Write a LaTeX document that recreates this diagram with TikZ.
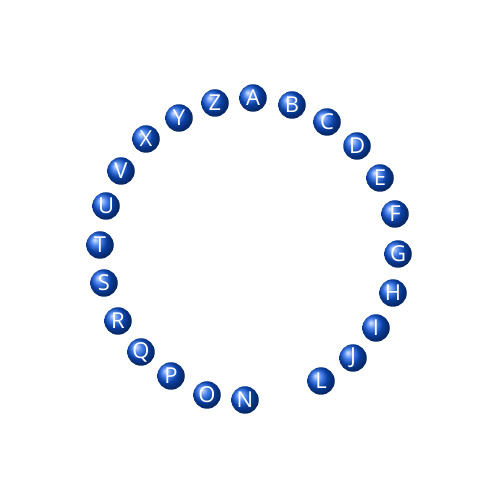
\documentclass[tikz,border=0pt]{standalone}
\usepackage{fontspec}
\setsansfont{Open Sans}
\definecolor{ballblue}{RGB}{15,90,230}

\begin{document}
\begin{tikzpicture}
            \useasboundingbox (0,0) rectangle (10,10);
            \begin{scope}[every node/.style={circle,ball color=ballblue,minimum size=5.5mm,inner sep=0pt,text=white,font=\sffamily\fontsize{12.5}{12.5}\selectfont}]
                \node (bA) at (5.06,8.04) {A};
                \node (bB) at (5.84,7.90) {B};
                \node (bC) at (6.54,7.56) {C};
                \node (bD) at (7.14,7.08) {D};
                \node (bE) at (7.60,6.44) {E};
                \node (bF) at (7.90,5.72) {F};
                \node (bG) at (7.96,4.92) {G};
                \node (bH) at (7.86,4.14) {H};
                \node (bI) at (7.52,3.44) {I};
                \node (bJ) at (7.06,2.84) {J};
                \node (bL) at (6.42,2.38) {L};
                \node (bN) at (4.90,2.00) {N};
                \node (bO) at (4.14,2.10) {O};
                \node (bP) at (3.42,2.48) {P};
                \node (bQ) at (2.82,2.96) {Q};
                \node (bR) at (2.36,3.58) {R};
                \node (bS) at (2.08,4.34) {S};
                \node (bT) at (2.00,5.10) {T};
                \node (bU) at (2.12,5.88) {U};
                \node (bV) at (2.42,6.58) {V};
                \node (bX) at (2.92,7.22) {X};
                \node (bY) at (3.58,7.64) {Y};
                \node (bZ) at (4.30,7.94) {Z};
            \end{scope}
        \end{tikzpicture}
\end{document}
